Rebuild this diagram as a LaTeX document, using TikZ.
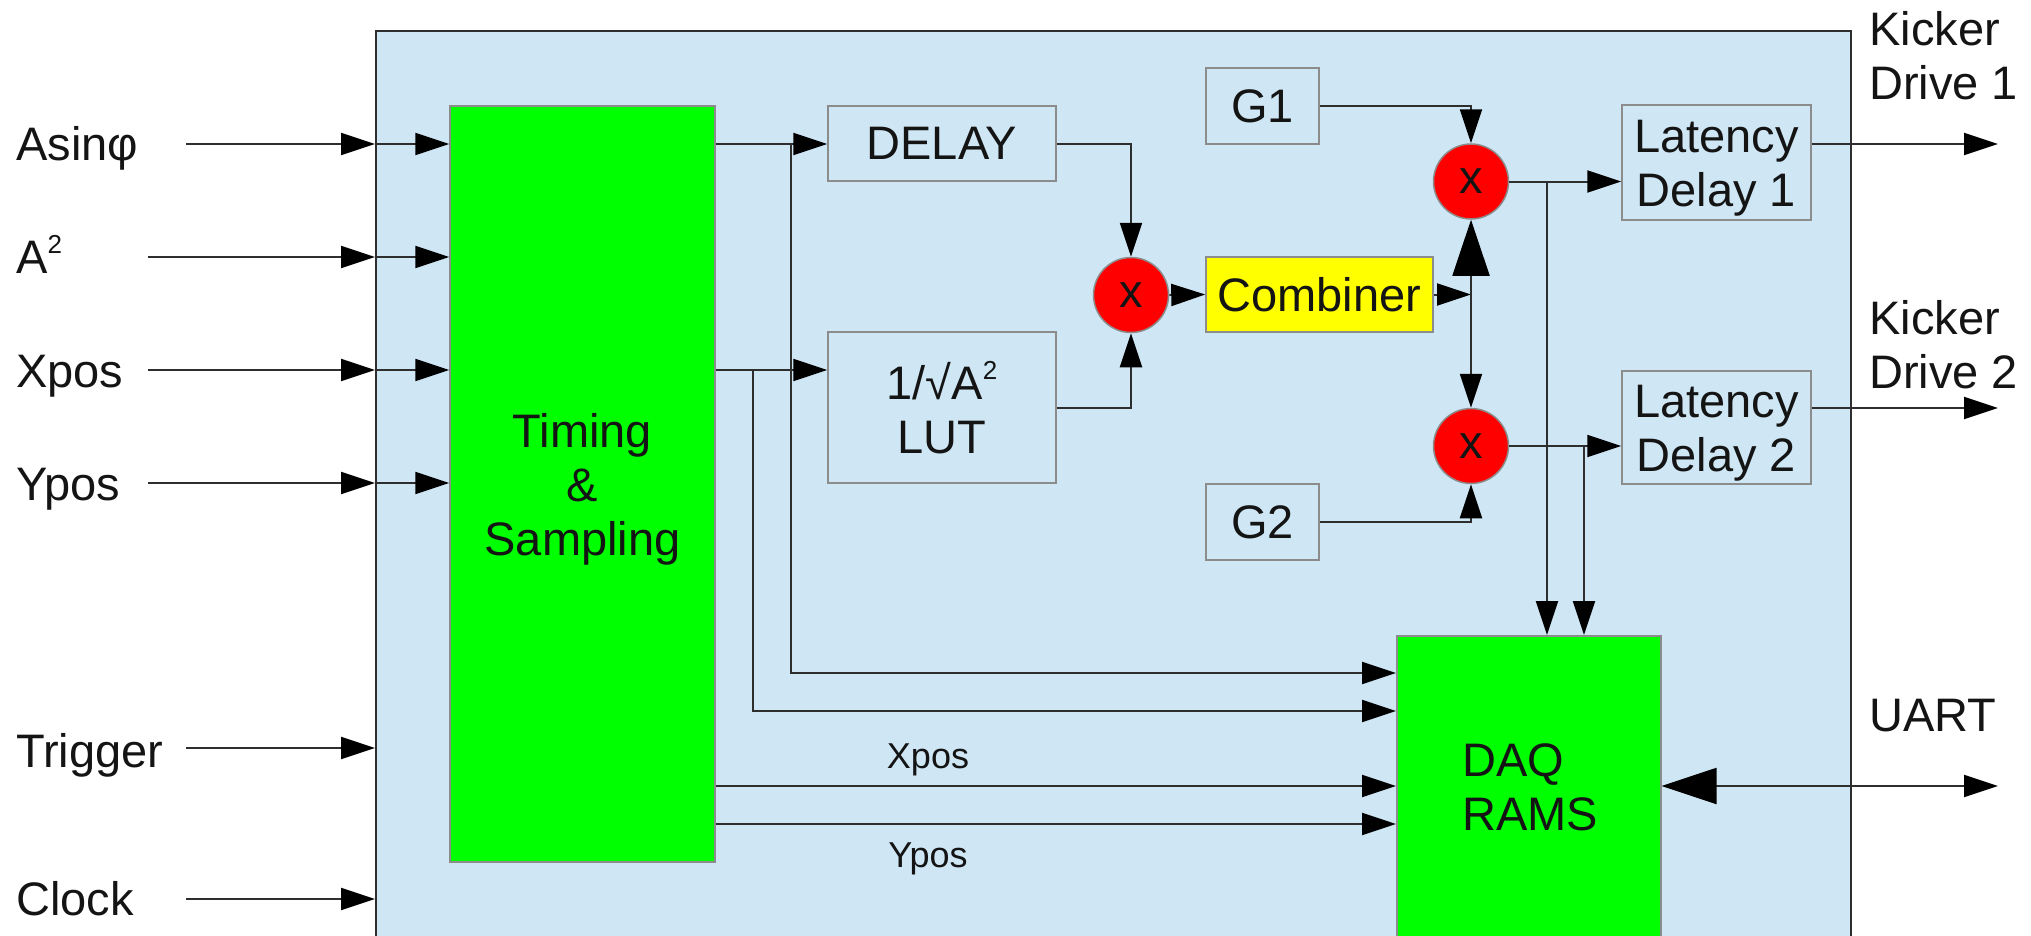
\documentclass[tikz,border=0pt]{standalone}
\usepackage{fontspec}
\setmainfont{Liberation Sans}
\usetikzlibrary{arrows.meta}
\definecolor{paleblue}{HTML}{CFE7F5}
\definecolor{bgray}{HTML}{8C8C8C}
\definecolor{wirec}{HTML}{2E2E2E}
\definecolor{txtc}{HTML}{141414}
\definecolor{vgreen}{HTML}{00FF00}
\definecolor{vred}{HTML}{FF0000}
\definecolor{vyellow}{HTML}{FFFF00}
\newcommand{\supTwo}{\raisebox{20pt}{\fontsize{26}{26}\selectfont 2}}
\begin{document}
\begin{tikzpicture}[x=1pt,y=-1pt,
  every node/.style={text=txtc},
  big/.style={font=\fontsize{47}{54}\selectfont},
  small/.style={font=\fontsize{36}{40}\selectfont},
  lbl/.style={big, inner sep=0},
  blk/.style={draw=bgray, line width=1.5pt, fill=paleblue, inner sep=0, big, align=center},
  gblk/.style={blk, fill=vgreen},
  mult/.style={circle, draw=bgray, line width=1.5pt, fill=vred, minimum size=75pt, inner sep=0, big},
  wire/.style={draw=wirec, line width=2pt},
  arr/.style={wire, -{Triangle[length=34pt,width=22pt,black]}},
  bigarr/.style={wire, -{Triangle[length=56pt,width=37pt,black]}},
]
\useasboundingbox (0,0) rectangle (2031,935);
\clip (0,0) rectangle (2031,935);

% container
\node[draw=wirec, line width=1.5pt, fill=paleblue, minimum width=1475pt, minimum height=940pt, anchor=north west, inner sep=0] (outer) at (375,30) {};

% blocks
\node[gblk, minimum width=265pt, minimum height=756pt] (tim) at (582.5,484) {};
\node[lbl, align=center] (timt) at (582.5,489) {Timing\\\&\\Sampling};
\node[blk, minimum width=228pt, minimum height=75pt] (delay) at (942,143.5) {DELAY};
\node[blk, minimum width=228pt, minimum height=151pt] (lut) at (942,407.5) {1/√A\supTwo\\LUT};
\node[mult] (m0) at (1131,295) {x};
\node[blk, fill=vyellow, minimum width=227pt, minimum height=75pt] (comb) at (1319.5,294.5) {Combiner};
\node[blk, minimum width=113pt, minimum height=76pt] (g1) at (1262.5,106) {G1};
\node[blk, minimum width=113pt, minimum height=76pt] (g2) at (1262.5,522) {G2};
\node[mult] (m1) at (1471,181.5) {x};
\node[mult] (m2) at (1471,446) {x};
\node[blk, minimum width=189pt, minimum height=115pt] (ld1) at (1716.5,162.5) {};
\node[lbl, align=center] (ld1t) at (1716.5,168.5) {Latency\\Delay 1};
\node[blk, minimum width=189pt, minimum height=113pt] (ld2) at (1716.5,427.5) {};
\node[lbl, align=center] (ld2t) at (1716.5,433.5) {Latency\\Delay 2};
\node[gblk, minimum width=264pt, minimum height=330pt, anchor=north west] (daq) at (1396,635) {};
\node[lbl, align=left] (daqt) at (1530,787) {DAQ\\RAMS};

% labels
\node[lbl, anchor=base west] (lAs) at (16,160) {Asinφ};
\node[lbl, anchor=base west] (lA2) at (16,273) {A\supTwo};
\node[lbl, anchor=base west] (lX) at (16,387) {Xpos};
\node[lbl, anchor=base west] (lY) at (16,500) {Ypos};
\node[lbl, anchor=base west] (lT) at (16,767) {Trigger};
\node[lbl, anchor=base west] (lC) at (16,915) {Clock};
\node[lbl, align=left, anchor=west] (kd1) at (1869,55.75) {Kicker\\Drive 1};
\node[lbl, align=left, anchor=west] (kd2) at (1869,344.5) {Kicker\\Drive 2};
\node[lbl, anchor=base west] (uart) at (1869,731) {UART};
\node[small, inner sep=0, anchor=base] (xl) at (928,768) {Xpos};
\node[small, inner sep=0, anchor=base] (yl) at (928,867) {Ypos};

% free ends / junctions
\coordinate (sAs) at (186,144);
\coordinate (sA2) at (148,257);
\coordinate (sX) at (148,370);
\coordinate (sY) at (148,483);
\coordinate (sT) at (186,748);
\coordinate (sC) at (186,899);
\coordinate (j1) at (791,144);
\coordinate (k1) at (791,673);
\coordinate (j2) at (753,370);
\coordinate (k2) at (753,711);
\coordinate (xr) at (0,786);
\coordinate (yr) at (0,824);
\coordinate (cj) at (1471,294.5);
\coordinate (j3) at (1547,181.5);
\coordinate (j4) at (1584,446);
\coordinate (o1) at (1998,144);
\coordinate (o2) at (1998,408);
\coordinate (o3) at (1998,786);

% inputs
\foreach \s in {sAs,sA2,sX,sY}{
  \draw[arr] (\s) -- (\s -| outer.west);
  \draw[arr] (\s -| outer.west) -- (\s -| tim.west);
}
\draw[arr] (sT) -- (sT -| outer.west);
\draw[arr] (sC) -- (sC -| outer.west);

% timing outputs
\draw[arr] (tim.east |- sAs) -- (delay.west |- sAs);
\draw[arr] (j1) -- (k1) -- (k1 -| daq.west);
\draw[arr] (tim.east |- sX) -- (lut.west |- sX);
\draw[arr] (j2) -- (k2) -- (k2 -| daq.west);
\draw[arr] (tim.east |- xr) -- (daq.west |- xr);
\draw[arr] (tim.east |- yr) -- (daq.west |- yr);

% processing chain
\draw[arr] (delay.east) -| (m0.north);
\draw[arr] (lut.east) -| (m0.south);
\draw[arr] (m0.east) -- (comb.west);
\draw[arr] (comb.east) -- (cj);
\draw[bigarr] (cj) -- (m1.south);
\draw[arr] (cj) -- (m2.north);
\draw[arr] (g1.east) -| (m1.north);
\draw[arr] (g2.east) -| (m2.south);
\draw[arr] (m1.east) -- (ld1.west |- m1.east);
\draw[arr] (m2.east) -- (ld2.west |- m2.east);
\draw[arr] (j3) -- (j3 |- daq.north);
\draw[arr] (j4) -- (j4 |- daq.north);
\draw[arr] (ld1.east |- o1) -- (o1);
\draw[arr] (ld2.east |- o2) -- (o2);
\draw[wire, {Triangle[length=55pt,width=36pt,black]}-{Triangle[length=34pt,width=22pt,black]}] (daq.east |- o3) -- (o3);
\end{tikzpicture}
\end{document}
